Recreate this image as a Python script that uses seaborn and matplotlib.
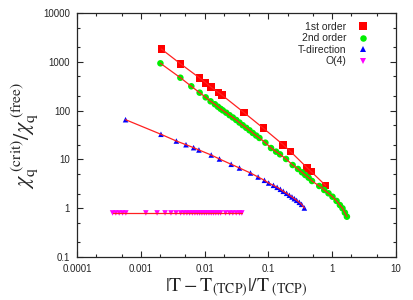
import numpy as np
import pandas as pd
import matplotlib
matplotlib.use('Agg')
import matplotlib.pyplot as plt
from matplotlib.ticker import LogLocator, NullFormatter, FixedLocator, FixedFormatter
import seaborn as sns

# chi ratio data
first_x = [0.0021, 0.00417, 0.00836, 0.0104, 0.0125, 0.0166, 0.0189, 0.0417,
           0.0836, 0.170, 0.221, 0.407, 0.470, 0.785]
first_y = [1828, 914, 466, 373, 305, 233, 206, 90.6, 43.4, 20.0, 14.6, 6.67,
           5.60, 2.94]

second_x = [0.00203, 0.00417, 0.00619, 0.00836, 0.0104, 0.0124, 0.0145, 0.0162,
            0.0178, 0.0193, 0.0218, 0.0246, 0.0277, 0.0313, 0.0352, 0.0396,
            0.0449, 0.0505, 0.0569, 0.0643, 0.0723, 0.0897, 0.110, 0.132,
            0.152, 0.189, 0.240, 0.291, 0.336, 0.378, 0.427, 0.482, 0.627,
            0.750, 0.875, 1.01, 1.17, 1.32, 1.45, 1.58, 1.70]
second_y = [931, 472, 315, 233, 187, 155, 135, 120, 109, 101, 90.6, 80.5, 72.3,
            64.2, 56.8, 50.2, 44.4, 39.5, 34.8, 30.8, 27.5, 22.0, 17.1, 14.4,
            12.7, 10.2, 7.67, 6.36, 5.44, 4.79, 4.22, 3.61, 2.85, 2.36, 2.02,
            1.72, 1.41, 1.16, 0.995, 0.81, 0.67]

tdir_x = [0.000577, 0.00207, 0.00361, 0.00511, 0.00673, 0.00815, 0.0127,
          0.0171, 0.0261, 0.0352, 0.0524, 0.0690, 0.0867, 0.101, 0.120, 0.137,
          0.154, 0.171, 0.193, 0.213, 0.234, 0.255, 0.277, 0.305, 0.331, 0.366]
tdir_y = [65.1, 32.7, 23.8, 20.0, 17.4, 15.6, 12.3, 10.2, 7.94, 6.67, 5.26,
          4.36, 3.73, 3.28, 2.94, 2.68, 2.44, 2.22, 2.02, 1.84, 1.70, 1.57,
          1.45, 1.32, 1.20, 1.01]

o4_x = [0.000361, 0.000406, 0.000458, 0.000518, 0.000583, 0.00120, 0.00180,
        0.00240, 0.00297, 0.00356, 0.00422, 0.00475, 0.00528, 0.00583,
        0.00643, 0.00705, 0.00769, 0.00836, 0.00908, 0.00989, 0.0107, 0.0117,
        0.0127, 0.0138, 0.0150, 0.0164, 0.0178, 0.0213, 0.0246, 0.0277,
        0.0313, 0.0352, 0.0383]
o4_y = [0.80, 0.80, 0.80, 0.80, 0.80, 0.80, 0.80, 0.80, 0.80, 0.80, 0.80,
        0.80, 0.80, 0.80, 0.80, 0.80, 0.80, 0.80, 0.80, 0.80, 0.80, 0.80,
        0.80, 0.80, 0.80, 0.80, 0.80, 0.80, 0.80, 0.80, 0.80, 0.80, 0.80]

labels = ['1st order', '2nd order', 'T-direction', 'O(4)']
colors = ['#ff0000', '#00ee00', '#0000ff', '#ff00ff']
markers = ['s', 'o', '^', 'v']

df = pd.concat([
    pd.DataFrame({'x': first_x, 'y': first_y, 'series': labels[0]}),
    pd.DataFrame({'x': second_x, 'y': second_y, 'series': labels[1]}),
    pd.DataFrame({'x': tdir_x, 'y': tdir_y, 'series': labels[2]}),
    pd.DataFrame({'x': o4_x, 'y': o4_y, 'series': labels[3]}),
], ignore_index=True)

sns.set_style('ticks', {'xtick.direction': 'in', 'ytick.direction': 'in'})
plt.rcParams['font.family'] = ['Liberation Sans', 'DejaVu Sans']
plt.rcParams['mathtext.fontset'] = 'stix'

fig = plt.figure(figsize=(4.14, 3.0), dpi=100)
ax = fig.add_axes([77/414, 43/300, 319/414, 244/300])

sns.scatterplot(data=df, x='x', y='y', hue='series', style='series',
                hue_order=labels, style_order=labels,
                palette=dict(zip(labels, colors)),
                markers=dict(zip(labels, markers)),
                size='series', sizes=dict(zip(labels, [30, 22, 16, 16])),
                linewidth=0, ax=ax, zorder=2)
# red connecting lines drawn over the symbols
sns.lineplot(data=df, x='x', y='y', units='series', estimator=None, sort=False,
             color='#ff2020', linewidth=0.9, ax=ax, legend=False, zorder=3)

ax.set_xscale('log')
ax.set_yscale('log')
ax.set_xlim(1e-4, 10)
ax.set_ylim(0.1, 1e4)

xt = [1e-4, 1e-3, 1e-2, 1e-1, 1, 10]
yt = [0.1, 1, 10, 100, 1000, 10000]
ax.xaxis.set_major_locator(FixedLocator(xt))
ax.xaxis.set_major_formatter(FixedFormatter(['0.0001', '0.001', '0.01', '0.1', '1', '10']))
ax.yaxis.set_major_locator(FixedLocator(yt))
ax.yaxis.set_major_formatter(FixedFormatter(['0.1', '1', '10', '100', '1000', '10000']))
for a in (ax.xaxis, ax.yaxis):
    a.set_minor_locator(LogLocator(base=10, subs=[2, 5]))
    a.set_minor_formatter(NullFormatter())

ax.tick_params(which='both', direction='in', top=True, right=True,
               labelsize=7, width=0.8, pad=5)
ax.tick_params(which='major', length=4)
ax.tick_params(which='minor', length=2.5)
for s in ax.spines.values():
    s.set_linewidth(0.9)
    s.set_visible(True)

ax.set_xlabel(r'$|\mathrm{T}-\mathrm{T}_{\mathrm{(TCP)}}|/\mathrm{T}_{\ \mathrm{(TCP)}}$',
              fontsize=14, labelpad=2)
ax.set_ylabel(r'$\chi_{\mathrm{q}}^{\ (\mathrm{crit})}/\chi_{\mathrm{q}}^{\ (\mathrm{free})}$',
              fontsize=16, labelpad=2)

h, l = ax.get_legend_handles_labels()
ax.legend(h, l, loc='upper right', bbox_to_anchor=(0.935, 0.99),
          frameon=False, markerfirst=False, fontsize=7.5,
          handletextpad=1.0, labelspacing=0.15, handlelength=1.2,
          borderaxespad=0.2)

plt.savefig('out.png', dpi=100)
